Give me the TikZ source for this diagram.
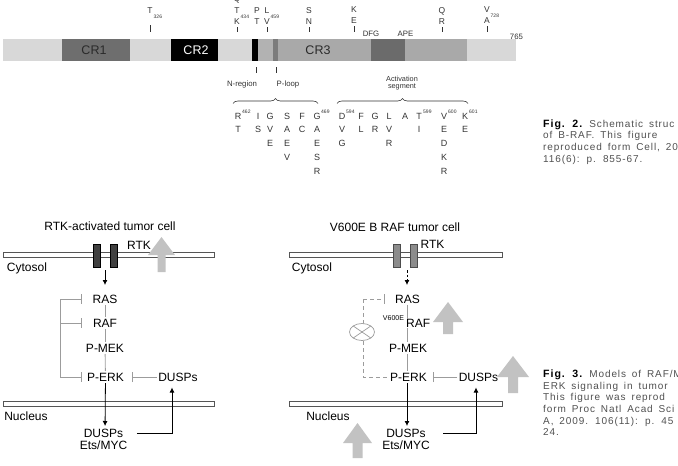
\documentclass[tikz,border=0pt]{standalone}
\usepackage{fontspec}
\setmainfont{Liberation Sans}
\usetikzlibrary{arrows.meta,decorations.pathreplacing,calc}
\definecolor{barlight}{HTML}{D8D8D8}
\definecolor{crone}{HTML}{6E6E6E}
\definecolor{nreg}{HTML}{B2B2B2}
\definecolor{stripe}{HTML}{7C7C7C}
\definecolor{crthree}{HTML}{A9A9A9}
\definecolor{dfgc}{HTML}{6B6B6B}
\definecolor{crtext}{HTML}{2A2A2A}
\definecolor{mutc}{HTML}{333333}
\definecolor{fbc}{HTML}{9C9C9C}
\definecolor{garrowc}{HTML}{C2C2C2}
\definecolor{capc}{HTML}{505050}
\definecolor{membc}{HTML}{555555}
\newfontfamily\capfont[LetterSpace=9,WordSpace=1.6]{Liberation Sans}
\newcommand{\figlbl}[1]{{\fontsize{10.6}{11}\selectfont\bfseries\color{black}#1}}
\begin{document}
\begin{tikzpicture}[x=1pt,y=-1pt,
  every node/.style={inner sep=1.5pt},
  txt/.style={font=\fontsize{12}{14}\selectfont, text height=8.6pt, text depth=0pt},
  crlbl/.style={font=\fontsize{12.5}{14}\selectfont, text height=9pt, text depth=0pt},
  mut/.style={font=\fontsize{8.5}{10}\selectfont, text=mutc, inner sep=0pt, text height=6.1pt, text depth=0pt},
  res/.style={font=\fontsize{9}{10}\selectfont, text=mutc, inner sep=0pt, text height=6.5pt, text depth=0pt},
  supl/.style={font=\fontsize{5}{6}\selectfont, text=mutc, inner sep=0pt, anchor=west},
  smalltxt/.style={font=\fontsize{7.8}{9}\selectfont, text=mutc, inner sep=0pt, text height=5.6pt, text depth=0pt},
  captxt/.style={font=\capfont\fontsize{10}{11}\selectfont, text=capc, inner sep=0pt, anchor=west, text height=7.2pt, text depth=0pt},
  tickln/.style={draw=mutc, line width=0.6pt},
  memb/.style={draw=membc, fill=white, line width=0.8pt},
  linkln/.style={draw=fbc, line width=0.8pt},
  arr/.style={-{Latex[length=5pt,width=5pt]}, line width=0.8pt, draw=black},
  fbln/.style={draw=fbc, line width=0.8pt},
  teeend/.style={-{Bar[width=10pt,line width=0.8pt]}},
  teeboth/.style={{Bar[width=10pt,line width=0.8pt]}-{Bar[width=10pt,line width=0.8pt]}},
  dashfb/.style={draw=fbc, line width=0.8pt, dash pattern=on 4pt off 3pt},
  garrow/.style={fill=garrowc}
]
\useasboundingbox (0,0) rectangle (678,466);
\clip (0,0) rectangle (678,466);

% ================= Fig. 2 : B-RAF bar =================
\fill[barlight] (3,39) rectangle (516,61);
\fill[crone] (62,39) rectangle (130,61);
\fill[black] (171,39) rectangle (218,61);
\fill[black] (252,39) rectangle (258,61);
\fill[nreg] (258,39) rectangle (273,61);
\fill[stripe] (273,39) rectangle (278,61);
\fill[crthree] (278,39) rectangle (467,61);
\fill[dfgc] (371,39) rectangle (405,61);
\node[crlbl, text=crtext] (cr1) at (94,50) {CR1};
\node[crlbl, text=white] (cr2) at (196,50) {CR2};
\node[crlbl, text=crtext] (cr3) at (318,50) {CR3};

% mutation labels above the bar
\node[mut] (t326) at (150,10) {T};
\node[supl] (s326) at (153.5,17) {326};
\draw[tickln] (150,25) -- (150,32);

\node[mut] (q434) at (237,-1.5) {Q};
\node[mut] (t434) at (237,10) {T};
\node[mut] (k434) at (237,21.5) {K};
\node[supl] (s434) at (240.5,16.5) {434};
\draw[tickln] (237,27) -- (237,32);

\node[mut] (p1) at (257,10) {P};
\node[mut] (t1) at (257,21.5) {T};

\node[mut] (l459) at (267,10) {L};
\node[mut] (v459) at (267,21.5) {V};
\node[supl] (s459) at (270.5,16.5) {459};
\draw[tickln] (267,27) -- (267,32);

\node[mut] (s1) at (309,10) {S};
\node[mut] (n1) at (309,21.5) {N};
\draw[tickln] (309,27) -- (309,32);

\node[mut] (k1) at (354,9.5) {K};
\node[mut] (e1) at (354,20.5) {E};
\draw[tickln] (354,26) -- (354,32);

\node[smalltxt] (dfg) at (371,34) {DFG};
\node[smalltxt] (ape) at (405.5,34) {APE};

\node[mut] (q1) at (442,10) {Q};
\node[mut] (r1) at (442,21.5) {R};
\draw[tickln] (442,27) -- (442,32);

\node[mut] (v728) at (487,9) {V};
\node[mut] (a728) at (487,20.5) {A};
\node[supl] (s728) at (490.5,15.5) {728};
\draw[tickln] (487,26) -- (487,32);

\node[smalltxt] (end765) at (516.5,37) {765};

% below the bar
\draw[tickln] (256,67) -- (256,73);
\draw[tickln] (276,67) -- (276,73);
\node[smalltxt] (nregion) at (242,84) {N-region};
\node[smalltxt] (ploop) at (288,84) {P-loop};
\node[font=\fontsize{7.3}{8.5}\selectfont, text=mutc, inner sep=0pt, align=center] (actseg) at (402,83) {Activation\\[-1.2pt]segment};

\draw[mutc, line width=0.6pt, decorate, decoration={brace, amplitude=5pt}] (233,103.5) -- (318,103.5);
\draw[mutc, line width=0.6pt, decorate, decoration={brace, amplitude=5pt}] (337,103.5) -- (468,103.5);

% residue table
\foreach \s [count=\r] in {R,T} \node[res] (ca\r) at (238,{116+(\r-1)*13.7}) {\s};
\foreach \s [count=\r] in {I,S} \node[res] (cb\r) at (258,{116+(\r-1)*13.7}) {\s};
\foreach \s [count=\r] in {G,V,E} \node[res] (cc\r) at (270,{116+(\r-1)*13.7}) {\s};
\foreach \s [count=\r] in {S,A,E,V} \node[res] (cd\r) at (287,{116+(\r-1)*13.7}) {\s};
\foreach \s [count=\r] in {F,C} \node[res] (ce\r) at (302,{116+(\r-1)*13.7}) {\s};
\foreach \s [count=\r] in {G,A,E,S,R} \node[res] (cf\r) at (317,{116+(\r-1)*13.7}) {\s};
\foreach \s [count=\r] in {D,V,G} \node[res] (cg\r) at (342,{116+(\r-1)*13.7}) {\s};
\foreach \s [count=\r] in {F,L} \node[res] (ch\r) at (361,{116+(\r-1)*13.7}) {\s};
\foreach \s [count=\r] in {G,R} \node[res] (ci\r) at (375,{116+(\r-1)*13.7}) {\s};
\foreach \s [count=\r] in {L,V,R} \node[res] (cj\r) at (389,{116+(\r-1)*13.7}) {\s};
\foreach \s [count=\r] in {A} \node[res] (ck\r) at (405,{116+(\r-1)*13.7}) {\s};
\foreach \s [count=\r] in {T,I} \node[res] (cl\r) at (419,{116+(\r-1)*13.7}) {\s};
\foreach \s [count=\r] in {V,E,D,K,R} \node[res] (cm\r) at (444,{116+(\r-1)*13.7}) {\s};
\foreach \s [count=\r] in {K,E} \node[res] (cn\r) at (465,{116+(\r-1)*13.7}) {\s};
\node[supl] (s462) at (242,111.5) {462};
\node[supl] (s469) at (321,111.5) {469};
\node[supl] (s594) at (346,111.5) {594};
\node[supl] (s599) at (423,111.5) {599};
\node[supl] (s600) at (448,111.5) {600};
\node[supl] (s601) at (469,111.5) {601};

% caption Fig. 2
\node[captxt] (c2a) at (543,123.5) {\figlbl{Fig. 2.} Schematic struc};
\node[captxt] (c2b) at (543,135.2) {of B-RAF. This figure};
\node[captxt] (c2c) at (543,146.9) {reproduced form Cell, 20};
\node[captxt] (c2d) at (543,158.5) {116(6): p. 855-67.};

% ================= Fig. 3 left : RTK-activated =================
\node[txt] (titleL) at (110,226) {RTK-activated tumor cell};
\draw[memb] (3,252) rectangle (214,257);
\draw[draw=black, fill=black!75, line width=0.6pt] (93,244) rectangle (100,267);
\draw[draw=black, fill=black!75, line width=0.6pt] (110,244) rectangle (117,267);
\node[txt] (rtkL) at (139,245) {RTK};
\fill[garrow] (161.5,237) -- (175,255) -- (165.5,255) -- (165.5,272) -- (157.5,272) -- (157.5,255) -- (148,255) -- cycle;
\node[txt] (cytL) at (27,267) {Cytosol};
\coordinate (recL) at (105,270);
\node[txt] (rasL) at (105,299) {RAS};
\node[txt] (rafL) at (105,323) {RAF};
\node[txt] (pmekL) at (105,348) {P-MEK};
\node[txt] (perkL) at (105.5,377) {P-ERK};
\node[txt] (dupL) at (178,377) {DUSPs};
\draw[memb] (3,401) rectangle (214,406);
\node[txt] (nucL) at (26,416) {Nucleus};
\node[txt] (dusL) at (103.5,433) {DUSPs};
\node[txt] (etsL) at (103.5,445.5) {Ets/MYC};

\draw[arr, shorten >=8pt] (recL) -- (rasL);
\draw[linkln] (rasL) -- (rafL);
\draw[linkln] (rafL) -- (pmekL);
\draw[linkln] (pmekL) -- (perkL);
\coordinate (tRasL) at (82,299);
\coordinate (tRafL) at (82,323);
\coordinate (tPerkL) at (82,377);
\coordinate (cTopL) at (60,299);
\coordinate (cBotL) at (60,377);
\draw[fbln, teeboth] (tRasL) -- (cTopL) -- (cBotL) -- (tPerkL);
\draw[fbln, teeend] (cTopL |- tRafL) -- (tRafL);
\coordinate (tDupL) at (132,377);
\draw[fbln, teeend] (dupL) -- (tDupL);
\draw[arr, shorten >=7pt] (perkL) -- (105,433);
\draw[arr, shorten >=4.5pt] ([xshift=12pt]dusL.east) -| ([xshift=-6pt]dupL.south);

% ================= Fig. 3 right : V600E B RAF =================
\node[txt] (titleR) at (395,227) {V600E B RAF tumor cell};
\draw[memb] (289,252) rectangle (502,257);
\draw[draw=black!70, fill=black!45, line width=0.6pt] (393,244) rectangle (400,267);
\draw[draw=black!70, fill=black!45, line width=0.6pt] (410,244) rectangle (417,267);
\node[txt] (rtkR) at (432.5,244.5) {RTK};
\node[txt] (cytR) at (312,267) {Cytosol};
\coordinate (recR) at (407,270);
\node[txt] (rasR) at (407.5,299) {RAS};
\node[font=\fontsize{7}{8}\selectfont, inner sep=0pt, text height=5pt, text depth=0pt] (v600e) at (393.5,317.5) {V600E};
\node[txt, inner sep=0pt, anchor=west] (rafR) at (406,323.5) {RAF};
\node[txt] (pmekR) at (408,348) {P-MEK};
\node[txt] (perkR) at (408.5,377) {P-ERK};
\node[txt] (dupR) at (478.5,377) {DUSPs};
\draw[memb] (289,401) rectangle (502,406);
\node[txt] (nucR) at (328,416) {Nucleus};
\node[txt] (dusR) at (406,433) {DUSPs};
\node[txt] (etsR) at (406,445.5) {Ets/MYC};

% gray up arrows
\fill[garrow] (448,302) -- (463,322) -- (453,322) -- (453,334) -- (443,334) -- (443,322) -- (433,322) -- cycle;
\fill[garrow] (513,356) -- (529,377) -- (518,377) -- (518,393) -- (508,393) -- (508,377) -- (497,377) -- cycle;
\fill[garrow] (357.5,423) -- (372,443) -- (362.5,443) -- (362.5,458) -- (352.5,458) -- (352.5,443) -- (343,443) -- cycle;

\draw[arr, dash pattern=on 2.5pt off 2pt, shorten >=8pt] (recR) -- (recR |- rasR.north);
\draw[linkln] (rasR.south -| recR) -- (recR |- rafR.north);
\draw[linkln] (recR |- rafR.south) -- (recR |- pmekR.north);
\draw[linkln] (recR |- pmekR.south) -- (recR |- perkR.north);
\coordinate (tRasR) at (385,299);
\coordinate (cTopR) at (363,299);
\coordinate (cBotR) at (363,377);
\coordinate (eErkR) at (388,377);
\draw[dashfb] (cTopR) -- (cBotR) -- (eErkR);
\draw[fbln, dash pattern=on 4pt off 3pt, teeend] (cTopR) -- (tRasR);
\draw[fbln, fill=white, line width=0.7pt] (362,332) ellipse (12.5 and 8.5);
\draw[fbln, line width=0.7pt] (353.2,326) -- (370.8,338);
\draw[fbln, line width=0.7pt] (353.2,338) -- (370.8,326);
\coordinate (tDupR) at (433,377);
\draw[fbln, teeend] (dupR) -- (tDupR);
\draw[arr, shorten >=7pt] (perkR.south -| recR) -- (recR |- dusR.center);
\draw[arr, shorten >=4.5pt] ([xshift=16pt]dusR.east) -| ([xshift=-2.5pt]dupR.south);

% caption Fig. 3
\node[captxt] (c3a) at (543,374) {\figlbl{Fig. 3.} Models of RAF/M};
\node[captxt] (c3b) at (543,385.6) {ERK signaling in tumor};
\node[captxt] (c3c) at (543,397.2) {This figure was reprod};
\node[captxt] (c3d) at (543,408.8) {form Proc Natl Acad Sci};
\node[captxt] (c3e) at (543,420.4) {A, 2009. 106(11): p. 45};
\node[captxt] (c3f) at (543,432) {24.};
\end{tikzpicture}
\end{document}
